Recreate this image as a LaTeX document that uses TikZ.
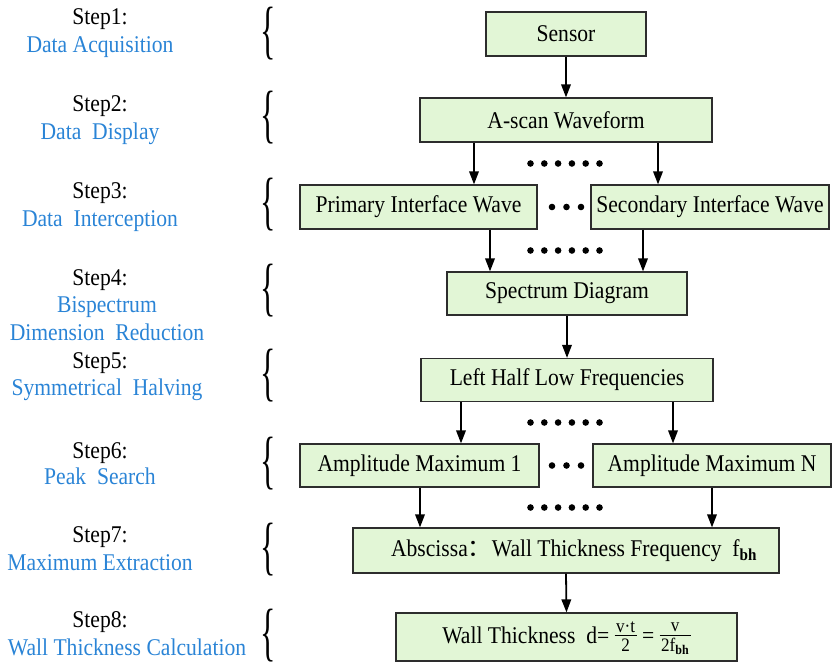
\documentclass[tikz,border=0pt]{standalone}
\usepackage{fontspec}
\setmainfont{Liberation Serif}[FakeStretch=0.9]
\newfontfamily\cjkfont{Noto Sans CJK SC}
\newfontfamily\bracefont{Liberation Serif}
\usetikzlibrary{arrows.meta}
\definecolor{boxfill}{RGB}{226,246,214}
\definecolor{boxline}{RGB}{45,45,45}
\definecolor{stepblue}{RGB}{42,132,214}
\newcommand{\wtfr}[2]{\ensuremath{\vcenter{\fontsize{19}{19}\selectfont\offinterlineskip\halign{\hfil\kern1.5pt##\kern1.5pt\hfil\cr\rule{0pt}{13pt}#1\cr\noalign{\kern2.5pt\hrule height 0.8pt\kern2.5pt}\rule{0pt}{13pt}#2\rule[-4pt]{0pt}{4pt}\cr}}}}
\newcommand{\bigbrace}{\scalebox{0.5}[1]{\bracefont\fontsize{64}{64}\selectfont\{}}
\begin{document}
\begin{tikzpicture}[x=1pt,y=-1pt,
  box/.style={draw=boxline, line width=1.2pt, fill=boxfill, inner sep=0pt, font=\fontsize{24}{28}\selectfont},
  arr/.style={line width=1.8pt, -{Triangle[length=13pt,width=9.5pt]}},
  steplbl/.style={font=\fontsize{24}{28}\selectfont, inner sep=0pt, text height=16pt, text depth=5pt},
  desc/.style={steplbl, text=stepblue},
  brc/.style={inner sep=0pt}
]
\useasboundingbox (0,0) rectangle (835,670);

% ---- boxes ----
\node[box, minimum width=160pt, minimum height=44pt] (sensor) at (566,34) {Sensor};
\node[box, minimum width=292pt, minimum height=44pt] (ascan) at (566,120) {A-scan Waveform};
\node[box, minimum width=237pt, minimum height=44pt] (prim) at (418.5,207) {Primary Interface Wave};
\node[box, minimum width=238pt, minimum height=44pt] (sec) at (710,207) {Secondary Interface Wave};
\node[box, minimum width=240pt, minimum height=43pt] (spec) at (567,293.5) {Spectrum Diagram};
\node[box, minimum width=292pt, minimum height=43pt] (left) at (567,380) {Left Half Low Frequencies};
\node[box, minimum width=239pt, minimum height=43pt] (amp1) at (419.5,465.5) {Amplitude Maximum 1};
\node[box, minimum width=238pt, minimum height=43pt] (ampn) at (712,465.5) {Amplitude Maximum N};
\node[box, minimum width=426pt, minimum height=45pt] (absc) at (566,550.5) {\hspace{16pt}Abscissa{\cjkfont ：}Wall Thickness Frequency\ \ f\textsubscript{\textbf{bh}}};
\node[box, minimum width=341pt, minimum height=48pt] (wall) at (566.5,637) {Wall Thickness\ \ d=\ \wtfr{v·t}{2}\ =\ \wtfr{v}{2f\textsubscript{\textbf{bh}}}};

% ---- arrows ----
\draw[arr] (sensor.south) -- (ascan.north);
\draw[arr] (ascan.south -| 474,0) -- (prim.north -| 474,0);
\draw[arr] (ascan.south -| 658,0) -- (sec.north -| 658,0);
\draw[arr] (prim.south -| 490,0) -- (spec.north -| 490,0);
\draw[arr] (sec.south -| 643,0) -- (spec.north -| 643,0);
\draw[arr] (spec.south) -- (left.north);
\draw[arr] (left.south -| 461,0) -- (amp1.north -| 461,0);
\draw[arr] (left.south -| 673,0) -- (ampn.north -| 673,0);
\draw[arr] (amp1.south -| 420,0) -- (absc.north -| 420,0);
\draw[arr] (ampn.south -| 712,0) -- (absc.north -| 712,0);
\draw[arr] (absc.south) -- (wall.north);

% ---- dots ----
\foreach \yy in {163.5,250.5,422.5,507.5}
  \foreach \i in {0,...,5}
    \fill (530.5+13.8*\i,\yy) circle[radius=3.3pt];
\foreach \yy in {207,465.5}
  \foreach \i in {0,1,2}
    \fill (552+14.5*\i,\yy) circle[radius=3.3pt];

% ---- left labels ----
\node[steplbl] (s1) at (100,19) {Step1:};
\node[desc] (d1) at (100,47) {Data Acquisition};
\node[steplbl] (s2) at (100,106) {Step2:};
\node[desc] (d2) at (100,134) {Data\ \ Display};
\node[steplbl] (s3) at (100,193) {Step3:};
\node[desc] (d3) at (100,221) {Data\ \ Interception};
\node[steplbl] (s4) at (100,280) {Step4:};
\node[desc] (d4a) at (107,307) {Bispectrum};
\node[desc] (d4b) at (107,335) {Dimension\ \ Reduction};
\node[steplbl] (s5) at (100,363) {Step5:};
\node[desc] (d5) at (107,390) {Symmetrical\ \ Halving};
\node[steplbl] (s6) at (100,453) {Step6:};
\node[desc] (d6) at (100,479) {Peak\ \ Search};
\node[steplbl] (s7) at (100,537) {Step7:};
\node[desc] (d7) at (100,565) {Maximum Extraction};
\node[steplbl] (s8) at (100,622) {Step8:};
\node[desc] (d8) at (127,650) {Wall Thickness Calculation};

% ---- braces ----
\foreach \yy/\nm in {34/b1,118/b2,205/b3,291/b4,376/b5,464/b6,550/b7,636/b8}
  \node[brc] (\nm) at (268,\yy) {\bigbrace};
\end{tikzpicture}
\end{document}
